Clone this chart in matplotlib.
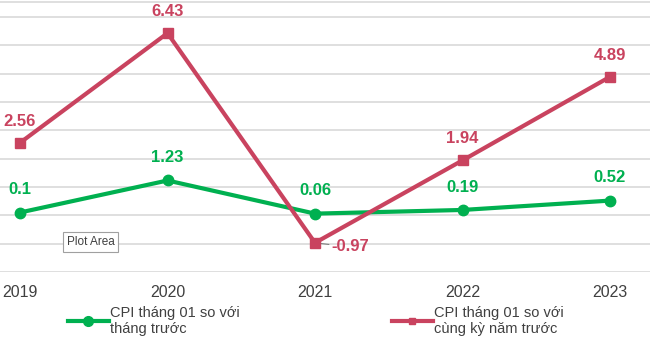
import matplotlib.pyplot as plt

plt.rcParams['font.family'] = ['Liberation Sans', 'DejaVu Sans']

# Data
years = ['2019', '2020', '2021', '2022', '2023']
cpi_prev_month = [0.1, 1.23, 0.06, 0.19, 0.52]
cpi_same_period = [2.56, 6.43, -0.97, 1.94, 4.89]

green = '#00B050'
red = '#C9435F'
grid_c = '#D9D9D9'

fig = plt.figure(figsize=(6.5, 3.44), dpi=100)
ax = fig.add_axes([0, 1 - 272 / 344, 1, 270 / 344])

x = list(range(len(years)))
l1, = ax.plot(x, cpi_prev_month, color=green, lw=3, marker='o', ms=7.5,
              label='CPI tháng 01 so với\ntháng trước', zorder=3)
l2, = ax.plot(x, cpi_same_period, color=red, lw=3, marker='s', ms=7,
              label='CPI tháng 01 so với\ncùng kỳ năm trước', zorder=4)

ax.set_xlim(-20 / 147.5, 630 / 147.5)
ax.set_ylim(-2, 7.53)
ax.set_yticks(range(-2, 8))
ax.yaxis.grid(True, color=grid_c, lw=1.2)
ax.set_axisbelow(True)
ax.tick_params(left=False, labelleft=False, bottom=False)
for s in ['left', 'right', 'bottom']:
    ax.spines[s].set_visible(False)
ax.spines['top'].set_color(grid_c)
ax.spines['top'].set_linewidth(1.2)
ax.set_xticks(x)
ax.set_xticklabels(years, fontsize=11.5, color='#404040')
ax.tick_params(axis='x', pad=6)

# Data labels
for xi, v in zip(x, cpi_prev_month):
    ax.annotate(f'{v:g}', (xi, v), xytext=(0, 11), textcoords='offset points',
                ha='center', va='bottom', color=green, fontsize=12,
                fontweight='bold')
for xi, v in zip(x, cpi_same_period):
    if v < 0:
        ax.annotate(f'{v:g}', (xi, v), xytext=(12, -3), textcoords='offset points',
                    ha='left', va='center', color=red, fontsize=12,
                    fontweight='bold',
                    arrowprops=dict(arrowstyle='-', color='#7f7f7f', lw=0.8,
                                    shrinkA=0, shrinkB=2))
    else:
        ax.annotate(f'{v:.2f}', (xi, v), xytext=(0, 10), textcoords='offset points',
                    ha='center', va='bottom', color=red, fontsize=12,
                    fontweight='bold')

# Excel tooltip
fig.text(67 / 650, 1 - 242 / 344, 'Plot Area', fontsize=8.5, color='#404040',
         va='center', ha='left',
         bbox=dict(boxstyle='square,pad=0.3', fc='white', ec='#a0a0a0', lw=0.8))

leg1 = fig.legend(handles=[l1], loc='upper left', bbox_to_anchor=(62 / 650, 1 - 300 / 344),
                  frameon=False, fontsize=10.5, handlelength=2.8, handletextpad=0.1,
                  borderaxespad=0, labelcolor='#404040')
leg1.get_lines()[0].set_markersize(7)
leg2 = fig.legend(handles=[l2], loc='upper left', bbox_to_anchor=(386 / 650, 1 - 300 / 344),
                  frameon=False, fontsize=10.5, handlelength=2.8, handletextpad=0.1,
                  borderaxespad=0, labelcolor='#404040')
leg2.get_lines()[0].set_markersize(5)

fig.savefig('out.png', dpi=100)
